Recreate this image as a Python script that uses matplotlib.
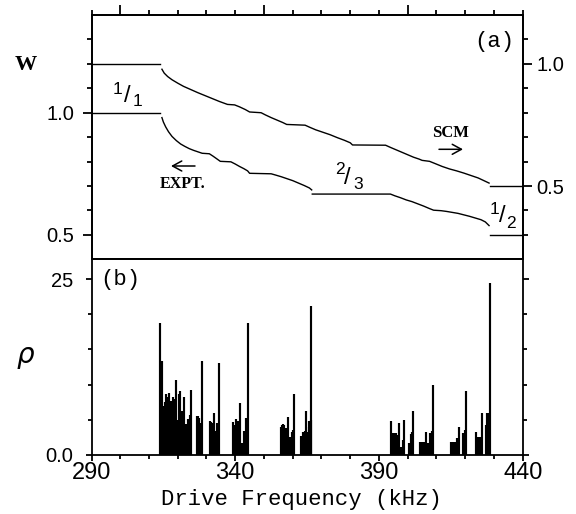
import matplotlib
matplotlib.use("Agg")
import matplotlib.pyplot as plt
import numpy as np

# ---------------- data ----------------
# (a) EXPT winding number (left axis)
expt_plateau1_f = [290, 314.0]
expt_plateau1_w = [1.0, 1.0]
expt_curve1_f = [314.5, 315.0, 315.8, 316.8, 318.0, 319.5, 321.0, 322.5, 324.0, 325.5, 327.0,
                 328.5, 331.0, 332.3, 333.5, 334.8, 338.5, 340.0, 341.5, 343.0, 344.3, 345.0,
                 352.5, 354.0, 356.0, 358.0, 360.0, 362.0, 364.0, 365.8, 366.6]
expt_curve1_w = [0.980, 0.962, 0.942, 0.922, 0.903, 0.886, 0.872, 0.862, 0.853, 0.846, 0.840,
                 0.834, 0.832, 0.822, 0.812, 0.801, 0.799, 0.790, 0.780, 0.771, 0.762, 0.752,
                 0.750, 0.745, 0.738, 0.730, 0.722, 0.712, 0.702, 0.692, 0.684]
expt_curve2_f = [366.8, 394.0, 395.5, 397.5, 399.5, 401.5, 403.5, 405.5, 407.5, 409.0, 411.6,
                 413.5, 415.5, 417.5, 419.5, 421.5, 423.5, 425.5, 427.0, 428.3]
expt_curve2_w = [0.667, 0.667, 0.660, 0.652, 0.643, 0.636, 0.627, 0.618, 0.608, 0.601, 0.599,
                 0.596, 0.592, 0.588, 0.582, 0.576, 0.569, 0.562, 0.553, 0.538]
expt_plateau2_f = [428.6, 440]
expt_plateau2_w = [0.5, 0.5]

# (a) SCM winding number (right axis)
scm_plateau1_f = [290, 314.0]
scm_plateau1_w = [1.0, 1.0]
scm_curve_f = [314.5, 315.3, 316.5, 318.0, 320.0, 322.0, 324.5, 327.0, 329.5, 332.0, 334.5,
               337.3, 339.8, 341.5, 343.5, 345.0, 349.0, 350.5, 352.5, 354.5, 356.5, 357.9,
               364.3, 366.0, 368.0, 370.5, 373.0, 375.5, 378.0, 380.0, 380.8, 392.3, 394.0,
               396.0, 398.0, 400.0, 402.0, 404.0, 405.0, 407.6, 409.5, 412.0, 414.5, 417.0,
               419.5, 422.0, 424.5, 426.5, 428.3]
scm_curve_w = [0.978, 0.962, 0.948, 0.935, 0.921, 0.908, 0.895, 0.882, 0.870, 0.858, 0.846,
               0.834, 0.832, 0.824, 0.813, 0.803, 0.800, 0.791, 0.780, 0.770, 0.760, 0.752,
               0.749, 0.740, 0.730, 0.720, 0.710, 0.698, 0.687, 0.677, 0.668, 0.667, 0.658,
               0.648, 0.638, 0.628, 0.618, 0.610, 0.605, 0.601, 0.592, 0.580, 0.570, 0.562,
               0.553, 0.543, 0.533, 0.522, 0.512]
scm_plateau2_f = [428.6, 440]
scm_plateau2_w = [0.5, 0.5]

# (b) rho spikes
rho_f = [313.9, 314.5, 315.1, 315.5, 315.9, 316.3, 316.6, 317.1, 317.5, 317.8, 318.4, 318.9,
         319.3, 319.9, 320.3, 320.8, 321.4, 321.8, 322.2, 322.7, 323.7, 324.2, 324.7,
         326.7, 327.1, 327.4, 327.9, 328.4,
         331.3, 331.7, 332.0, 332.7, 333.2, 333.7, 334.2,
         339.2, 339.7, 340.3, 340.8, 341.2, 341.8, 342.4, 343.0, 343.6, 344.1, 344.5,
         355.8, 356.2, 356.5, 357.0, 357.6, 358.2, 358.7, 359.2, 359.6, 360.1, 360.5,
         363.0, 363.6, 364.2, 364.6, 365.1, 365.5, 365.8, 366.2, 366.5,
         394.1, 394.6, 395.1, 395.5, 395.8, 396.4, 397.1, 397.6, 398.2, 398.7,
         400.4, 401.0, 401.4, 401.7,
         404.4, 405.1, 405.8, 406.3, 407.2, 407.7, 408.3, 408.7,
         414.9, 415.6, 416.4, 417.0, 417.4, 418.0, 419.3, 419.8, 420.2,
         423.9, 424.5, 425.1, 425.8, 427.1, 427.7, 428.2, 428.5]
rho_v = [18.8, 13.3, 6.9, 7.5, 8.6, 7.8, 8.3, 8.8, 7.6, 7.4, 8.3, 7.9,
         10.7, 5.0, 8.6, 9.1, 6.2, 6.2, 8.3, 4.4, 5.1, 5.7, 9.2,
         5.5, 5.6, 5.3, 4.5, 13.3,
         4.8, 4.7, 4.6, 6.0, 3.4, 4.6, 13.0,
         4.7, 4.3, 5.1, 4.9, 3.7, 7.4, 1.7, 3.4, 5.3, 5.1, 18.7,
         4.0, 4.2, 4.4, 4.3, 3.8, 5.4, 2.1, 2.6, 3.3, 3.6, 8.6,
         2.7, 3.2, 3.4, 6.2, 3.2, 4.0, 4.9, 5.0, 21.1,
         4.9, 3.1, 3.1, 3.0, 3.1, 2.8, 4.5, 1.2, 2.1, 5.0,
         1.7, 3.0, 3.2, 6.3,
         1.8, 1.8, 1.8, 3.3, 1.7, 3.1, 3.4, 10.0,
         1.9, 1.9, 1.9, 2.4, 2.0, 4.0, 3.1, 3.5, 9.1,
         3.2, 2.6, 2.6, 5.9, 4.3, 6.0, 6.0, 24.4]

# ---------------- layout ----------------
FW, FH = 576, 514
def fp(x, y):
    return x / FW, 1 - y / FH

fig = plt.figure(figsize=(5.76, 5.14), dpi=100)
L, R = 91.5, 522.7
T1, D, B2 = 15.0, 259.3, 455.0
ax1 = fig.add_axes([L / FW, 1 - D / FH, (R - L) / FW, (D - T1) / FH])
ax2 = fig.add_axes([L / FW, 1 - B2 / FH, (R - L) / FW, (B2 - D) / FH])
ax1r = ax1.twinx()

lw_sp = 1.3
tickfont = "Liberation Sans"
monofont = "Liberation Mono"

# ---- panel (a) ----
lc = "black"
for f, w in [(expt_plateau1_f, expt_plateau1_w), (expt_curve1_f, expt_curve1_w),
             (expt_curve2_f, expt_curve2_w), (expt_plateau2_f, expt_plateau2_w)]:
    ax1.plot(f, w, color=lc, lw=1.0)
for f, w in [(scm_plateau1_f, scm_plateau1_w), (scm_curve_f, scm_curve_w),
             (scm_plateau2_f, scm_plateau2_w)]:
    ax1r.plot(f, w, color=lc, lw=1.0)

ax1.set_xlim(290, 440)
ax1.set_ylim(0.4, 1.4)
ax1r.set_ylim(0.2, 1.2)

ax1.set_yticks([0.5, 1.0])
ax1.set_yticklabels(["0.5", "1.0"])
ax1.set_yticks([0.6, 0.7, 0.8, 0.9, 1.1, 1.2, 1.3], minor=True)
ax1r.set_yticks([0.5, 1.0])
ax1r.set_yticklabels(["0.5", "1.0"])
ax1r.set_yticks([0.3, 0.4, 0.6, 0.7, 0.8, 0.9, 1.1], minor=True)

ax1.set_xticks([300, 350, 400])
ax1.set_xticks(list(range(290, 441, 10)), minor=True)
ax1.tick_params(axis="x", which="both", bottom=False, top=True, labelbottom=False,
                labeltop=False, direction="out", width=lw_sp)
ax1.tick_params(axis="x", which="major", length=7.2)
ax1.tick_params(axis="x", which="minor", length=3.6)
ax1.tick_params(axis="y", which="both", left=True, right=False, direction="out", width=lw_sp,
                labelsize=14.5, labelfontfamily=tickfont)
ax1.tick_params(axis="y", which="major", length=6.5, pad=6.0)
ax1.tick_params(axis="y", which="minor", length=3.4)
ax1r.tick_params(axis="y", which="both", right=True, left=False, direction="out", width=lw_sp,
                 labelsize=14.5, labelfontfamily=tickfont)
ax1r.tick_params(axis="y", which="major", length=6.5, pad=3.5)
ax1r.tick_params(axis="y", which="minor", length=3.4)

for a in (ax1, ax1r, ax2):
    for s in a.spines.values():
        s.set_linewidth(lw_sp)

# ---- panel (b) ----
ax2.vlines(rho_f, 0, rho_v, color="black", lw=1.55)
ax2.set_xlim(290, 440)
ax2.set_ylim(0, 27.8)
ax2.set_xticks([290, 340, 390, 440])
ax2.set_xticklabels(["290", "340", "390", "440"])
ax2.set_xticks(list(range(300, 440, 10)), minor=True)
ax2.set_yticks([0, 25])
ax2.set_yticklabels(["0.0", "25"])
ax2.set_yticks([5, 10, 15, 20], minor=True)
ax2.tick_params(axis="x", which="both", bottom=True, top=False, direction="out", width=lw_sp,
                labelsize=17, labelfontfamily=tickfont)
ax2.tick_params(axis="x", which="major", length=4.2, pad=1.0)
ax2.tick_params(axis="x", which="minor", length=3.1)
ax2.tick_params(axis="y", which="both", left=True, right=True, direction="out", width=lw_sp,
                labelsize=14.5, labelfontfamily=tickfont)
ax2.tick_params(axis="y", which="major", length=4.3, pad=9.0)
ax2.tick_params(axis="y", which="minor", length=3.1)

# ---- texts ----
x, y = fp(26, 65)
fig.text(x, y, "W", fontsize=16, fontweight="bold", family="Liberation Serif",
         ha="center", va="center")
x, y = fp(494, 42)
fig.text(x, y, "(a)", fontsize=16, family=monofont, ha="center", va="center")
x, y = fp(120, 280)
fig.text(x, y, "(b)", fontsize=16, family=monofont, ha="center", va="center")
x, y = fp(25, 355)
fig.text(x, y, "ρ", fontsize=20, family="DejaVu Sans", style="italic",
         ha="center", va="center")
x, y = fp(301, 500)
fig.text(x, y, "Drive Frequency (kHz)", fontsize=16, family=monofont,
         ha="center", va="center")

x, y = fp(450.5, 133)
fig.text(x, y, "SCM", fontsize=12, fontweight="bold", family="Liberation Serif",
         ha="center", va="center")
x, y = fp(182.5, 184)
fig.text(x, y, "EXPT.", fontsize=11.5, fontweight="bold", family="Liberation Serif",
         ha="center", va="center")

for (x0, y0), (x1, y1) in [((439, 149.3), (463, 149.3)), ((195, 166), (171, 166))]:
    fig.add_artist(matplotlib.patches.FancyArrowPatch(
        fp(x0, y0), fp(x1, y1), transform=fig.transFigure,
        arrowstyle="->,head_length=0.55,head_width=0.3", mutation_scale=12,
        shrinkA=0, shrinkB=0, lw=1.1, color="black"))

def frac(num, den, xn, yn, xs, ys, xd, yd):
    a, b = fp(xn, yn)
    fig.text(a, b, num, fontsize=12.5, family=tickfont, ha="center", va="center")
    a, b = fp(xs, ys)
    fig.text(a, b, "/", fontsize=17, family=tickfont, ha="center", va="center")
    a, b = fp(xd, yd)
    fig.text(a, b, den, fontsize=12.5, family=tickfont, ha="center", va="center")

frac("1", "1", 117.6, 90, 127.5, 96, 137.5, 101.7)
frac("2", "3", 340, 170, 347.5, 177.5, 358.3, 184)
frac("1", "2", 494.3, 209.3, 502.5, 216, 511, 223.3)

fig.savefig("out.png", dpi=100)
